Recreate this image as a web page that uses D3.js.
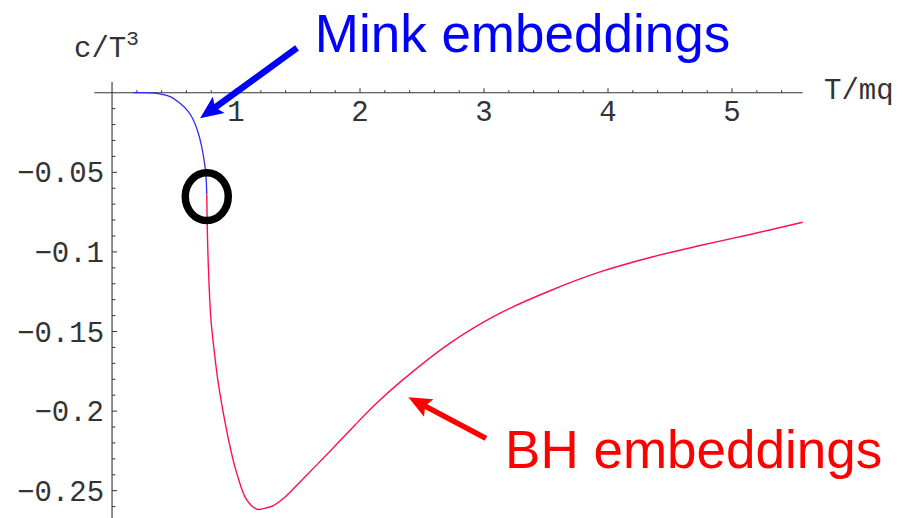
<!DOCTYPE html>
<html>
<head>
<meta charset="utf-8">
<script src="https://cdn.jsdelivr.net/npm/d3@7"></script>
<style>
  html, body { margin: 0; padding: 0; background: #fff; }
  svg { display: block; }
</style>
</head>
<body>
<svg id="chart" width="903" height="518"></svg>
<script>
// Mink embedding branch (T/mq, c/T^3)
const minkT = [0.169, 0.36, 0.468, 0.548, 0.615, 0.656, 0.696, 0.723, 0.742, 0.756, 0.764];
const minkC = [0, -0.0004, -0.0025, -0.0067, -0.0119, -0.0171, -0.0255, -0.0339, -0.0423, -0.0506, -0.064];

// Black-hole embedding branch
const bhT = [0.764, 0.769, 0.777, 0.796, 0.823, 0.857, 0.903, 0.952, 1.006, 1.086, 1.172, 1.248, 1.301, 1.382, 1.516, 1.785, 1.960, 2.137, 2.323, 2.726, 3.129, 3.532, 3.935, 4.339, 4.742, 5.145, 5.570];
const bhC = [-0.064, -0.0881, -0.1093, -0.1407, -0.1616, -0.1825, -0.2035, -0.2224, -0.2391, -0.2558, -0.2617, -0.2607, -0.2593, -0.2549, -0.2445, -0.2230, -0.2087, -0.1948, -0.1818, -0.1573, -0.1385, -0.1244, -0.1126, -0.1035, -0.0960, -0.0891, -0.0814];

// Tick values and labels
const xMajor = [1, 2, 3, 4, 5];
const xMajorLabels = ["1", "2", "3", "4", "5"];
const yMajor = [-0.05, -0.1, -0.15, -0.2, -0.25];
const yMajorLabels = ["\u22120.05", "\u22120.1", "\u22120.15", "\u22120.2", "\u22120.25"];
const xMinor = d3.range(1, 28).map(i => +(i * 0.2).toFixed(2)).filter(v => !xMajor.includes(v));
const yMinor = d3.range(1, 27).map(i => +(-i * 0.01).toFixed(2)).filter(v => !yMajor.includes(v));

// Annotation texts and anchor points (data space)
const labelTexts = ["Mink embeddings", "BH embeddings"];
const labelAnchors = [[1.635, 0.0256], [3.17, -0.2357]];
const arrowTails = [[1.492, 0.0281], [3.016, -0.2171]];
const arrowTips = [[0.710, -0.0161], [2.390, -0.1913]];

const svg = d3.select("#chart");
const x = d3.scaleLinear().domain([-0.143, 5.57]).range([94.3, 802.7]);
const y = d3.scaleLinear().domain([0, -0.25]).range([92.7, 490.7]);

const axisColor = "#333";
const textColor = "#333";
const monoFont = "'Liberation Mono', 'DejaVu Sans Mono', monospace";

// Axes lines
svg.append("line")
  .attr("x1", x(-0.143)).attr("x2", x(5.57))
  .attr("y1", y(0)).attr("y2", y(0))
  .attr("stroke", axisColor).attr("stroke-width", 1.1);
svg.append("line")
  .attr("x1", x(0)).attr("x2", x(0))
  .attr("y1", y(0.0067)).attr("y2", y(-0.2672))
  .attr("stroke", axisColor).attr("stroke-width", 1.1);

// X ticks (pointing up)
svg.append("g").selectAll("line").data(xMinor).join("line")
  .attr("x1", d => x(d)).attr("x2", d => x(d))
  .attr("y1", y(0)).attr("y2", y(0) - 2.5)
  .attr("stroke", axisColor).attr("stroke-width", 1);
svg.append("g").selectAll("line").data(xMajor).join("line")
  .attr("x1", d => x(d)).attr("x2", d => x(d))
  .attr("y1", y(0)).attr("y2", y(0) - 4.5)
  .attr("stroke", axisColor).attr("stroke-width", 1);
svg.append("g").selectAll("text").data(xMajor).join("text")
  .attr("x", d => x(d)).attr("y", y(0) + 28.5)
  .attr("text-anchor", "middle")
  .attr("font-family", monoFont).attr("font-size", 29)
  .attr("fill", textColor)
  .text((d, i) => xMajorLabels[i]);

// Y ticks (pointing right)
svg.append("g").selectAll("line").data(yMinor).join("line")
  .attr("x1", x(0)).attr("x2", x(0) + 3.3)
  .attr("y1", d => y(d)).attr("y2", d => y(d))
  .attr("stroke", axisColor).attr("stroke-width", 1);
svg.append("g").selectAll("line").data(yMajor).join("line")
  .attr("x1", x(0)).attr("x2", x(0) + 5)
  .attr("y1", d => y(d)).attr("y2", d => y(d))
  .attr("stroke", axisColor).attr("stroke-width", 1);
svg.append("g").selectAll("text").data(yMajor).join("text")
  .attr("x", x(0) - 8).attr("y", d => y(d) + 10)
  .attr("text-anchor", "end")
  .attr("font-family", monoFont).attr("font-size", 29)
  .attr("fill", textColor)
  .text((d, i) => yMajorLabels[i]);

// Axis titles
const yTitle = svg.append("text")
  .attr("x", 74).attr("y", 57)
  .attr("font-family", monoFont).attr("font-size", 29).attr("fill", textColor);
yTitle.append("tspan").text("c/T");
yTitle.append("tspan").attr("font-size", 21).attr("dy", -12).text("3");

svg.append("text")
  .attr("x", 824).attr("y", 99)
  .attr("font-family", monoFont).attr("font-size", 29).attr("fill", textColor)
  .text("T/mq");

// Curves
const line = d3.line().x(d => x(d[0])).y(d => y(d[1])).curve(d3.curveCatmullRom.alpha(0.5));
svg.append("path")
  .datum(minkT.map((t, i) => [t, minkC[i]]))
  .attr("d", line).attr("fill", "none")
  .attr("stroke", "#2a2aff").attr("stroke-width", 1.3);
svg.append("path")
  .datum(bhT.map((t, i) => [t, bhC[i]]))
  .attr("d", line).attr("fill", "none")
  .attr("stroke", "#ff1050").attr("stroke-width", 1.4);

// Circle at the transition between the two branches
svg.append("ellipse")
  .attr("cx", x(minkT[minkT.length - 1])).attr("cy", y(minkC[minkC.length - 1]) + 2)
  .attr("rx", 21.5).attr("ry", 23.8)
  .attr("fill", "none").attr("stroke", "#000").attr("stroke-width", 7.5);

// Arrow polygon from tail to tip
function arrowPoints(tail, tip, shaft, headLen, headW) {
  const x0 = x(tail[0]), y0 = y(tail[1]), x1 = x(tip[0]), y1 = y(tip[1]);
  const dx = x1 - x0, dy = y1 - y0, L = Math.hypot(dx, dy);
  const ux = dx / L, uy = dy / L, nx = -uy, ny = ux;
  const bx = x1 - ux * headLen, by = y1 - uy * headLen;
  const p = [
    [x0 + nx * shaft / 2, y0 + ny * shaft / 2],
    [bx + nx * shaft / 2, by + ny * shaft / 2],
    [bx + nx * headW / 2 - ux * 3, by + ny * headW / 2 - uy * 3],
    [x1, y1],
    [bx - nx * headW / 2 - ux * 3, by - ny * headW / 2 - uy * 3],
    [bx - nx * shaft / 2, by - ny * shaft / 2],
    [x0 - nx * shaft / 2, y0 - ny * shaft / 2]
  ];
  return p.map(q => q.join(",")).join(" ");
}
const annColors = ["#0000ff", "#ff0000"];
const shafts = [6.5, 5.5];
arrowTails.forEach((tail, i) => {
  svg.append("polygon")
    .attr("points", arrowPoints(tail, arrowTips[i], shafts[i], 20, 20))
    .attr("fill", annColors[i]);
});

// Annotation labels
svg.append("g").selectAll("text").data(labelTexts).join("text")
  .attr("x", (d, i) => x(labelAnchors[i][0]))
  .attr("y", (d, i) => y(labelAnchors[i][1]))
  .attr("font-family", "'Liberation Sans', Arial, sans-serif")
  .attr("font-size", 53)
  .attr("fill", (d, i) => annColors[i])
  .text(d => d);
</script>
</body>
</html>
